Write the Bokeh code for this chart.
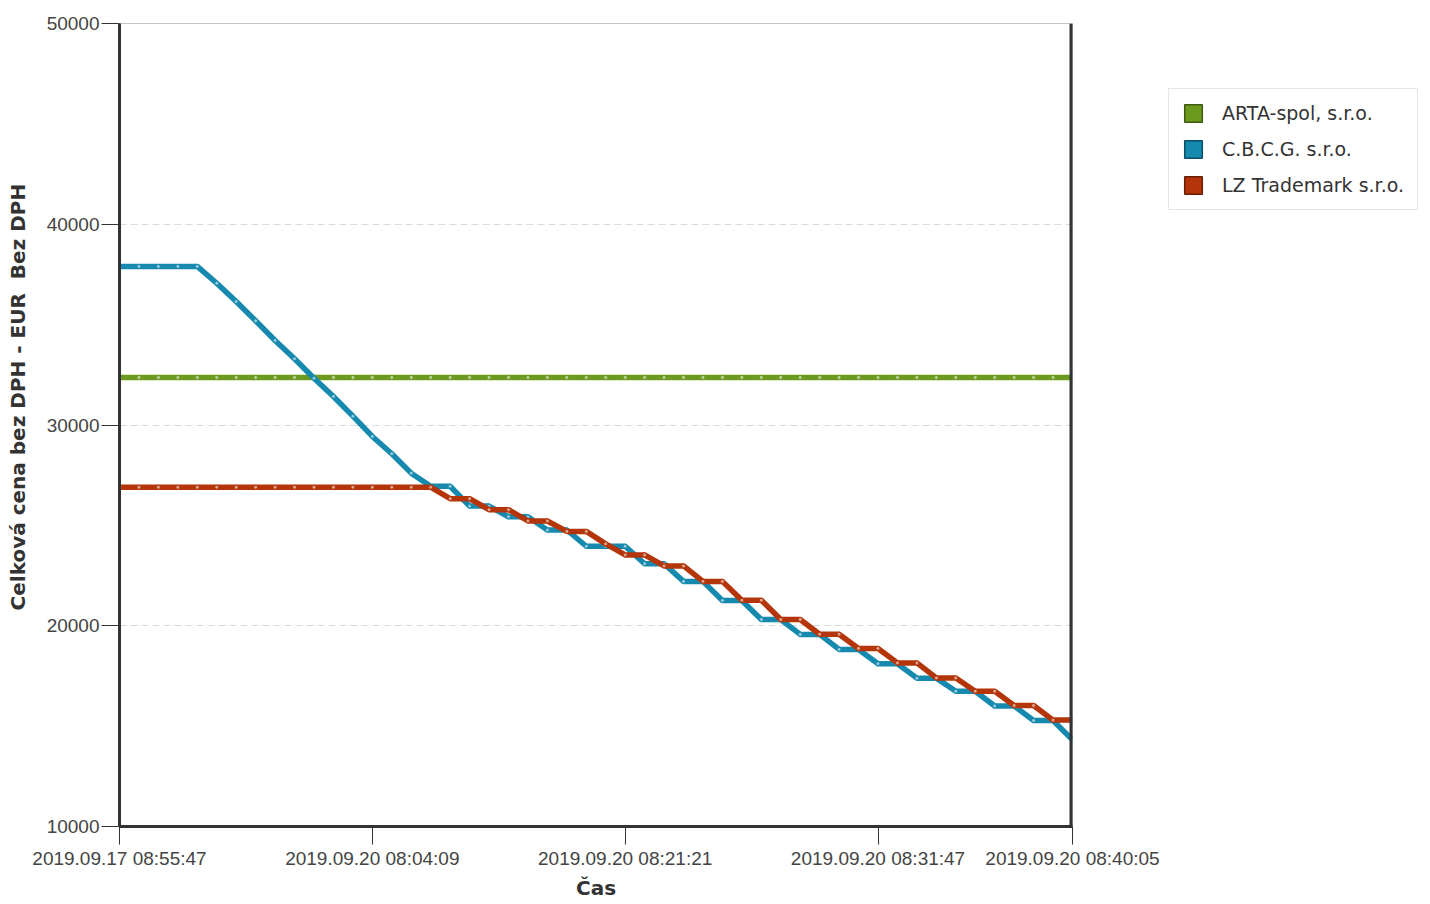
from bokeh.plotting import figure
from bokeh.models import (ColumnDataSource, Range1d, FixedTicker, Legend, LegendItem,
                          Span)
from bokeh.layouts import row
from bokeh.embed import file_html
from bokeh.resources import INLINE

# ---- data ----
series_names = ["ARTA-spol, s.r.o.", "C.B.C.G. s.r.o.", "LZ Trademark s.r.o."]
series_colors = ["#6b9a1f", "#1589ae", "#b33509"]
legend_edge = ["#3f5a12", "#0d4f66", "#6a1f05"]

arta = [32370] * 50

cbcg = [37900, 37900, 37900, 37900, 37900, 37060, 36150, 35190, 34210, 33300,
        32330, 31420, 30440, 29430, 28570, 27600, 26950, 26950, 25960, 25960,
        25430, 25430, 24770, 24770, 23960, 23960, 23960, 23090, 23090, 22210,
        22210, 21260, 21260, 20310, 20310, 19570, 19570, 18820, 18820, 18110,
        18110, 17390, 17390, 16740, 16740, 16000, 16000, 15280, 15280, 14320]

lz = [26900, 26900, 26900, 26900, 26900, 26900, 26900, 26900, 26900, 26900,
      26900, 26900, 26900, 26900, 26900, 26900, 26900, 26330, 26330, 25780,
      25780, 25220, 25220, 24700, 24700, 24080, 23530, 23530, 22980, 22980,
      22210, 22210, 21270, 21270, 20310, 20310, 19580, 19580, 18870, 18870,
      18150, 18150, 17400, 17400, 16740, 16740, 16030, 16030, 15300, 15300]

tick_positions = [0, 13, 26, 39, 49]
tick_labels = ["2019.09.17 08:55:47", "2019.09.20 08:04:09", "2019.09.20 08:21:21",
               "2019.09.20 08:31:47", "2019.09.20 08:40:05"]
y_ticks = [10000, 20000, 30000, 40000, 50000]

x_title = "Čas"
y_title = "\u00a0" * 8 + "Celková cena bez DPH - EUR\u00a0 Bez DPH"

idx = list(range(len(arta)))

H = 902
p = figure(width=1160, height=H, output_backend="svg", toolbar_location=None,
           x_range=Range1d(idx[0], idx[-1]), y_range=Range1d(y_ticks[0], y_ticks[-1]),
           min_border_left=119, min_border_right=88, min_border_top=23,
           min_border_bottom=76)
p.background_fill_color = "white"
p.border_fill_color = "white"
p.outline_line_color = "#c4c4c4"
p.outline_line_width = 1

# axes
xa = p.xaxis[0]
xa.ticker = FixedTicker(ticks=tick_positions)
xa.major_label_overrides = {t: l for t, l in zip(tick_positions, tick_labels)}
ya = p.yaxis[0]
ya.ticker = FixedTicker(ticks=y_ticks)
for ax in (xa, ya):
    ax.axis_line_color = "#333333"
    ax.axis_line_width = 3
    ax.major_tick_line_color = "#333333"
    ax.major_tick_line_width = 1
    ax.major_tick_out = 18
    ax.major_tick_in = 0
    ax.minor_tick_line_color = None
    ax.major_label_text_font = "Liberation Sans"
    ax.major_label_text_font_size = "19px"
    ax.major_label_text_color = "#444444"
    ax.major_label_standoff = 3
    ax.axis_label_text_font = "DejaVu Sans"
    ax.axis_label_text_font_size = "20px"
    ax.axis_label_text_font_style = "bold"
    ax.axis_label_text_color = "#333333"
xa.axis_label = x_title
xa.axis_label_standoff = 4
ya.axis_label = y_title
ya.axis_label_standoff = 14
ya.major_label_standoff = 2

# thick right frame edge at the last category
p.add_layout(Span(location=idx[-1], dimension="height", line_color="#333333",
                  line_width=6))

p.xgrid.grid_line_color = None
p.ygrid.grid_line_color = "#d5dde3"
p.ygrid.grid_line_dash = "7 4"
p.ygrid.grid_line_width = 1

# series
all_vals = [arta, cbcg, lz]
for vals, col in zip(all_vals, series_colors):
    src = ColumnDataSource(dict(x=idx, y=vals))
    p.line("x", "y", source=src, line_color=col, line_width=5.5, line_join="round")
    p.scatter("x", "y", source=src, size=4, marker="circle", line_color=col,
              line_width=1, fill_color="white", fill_alpha=0.55)

# legend panel (separate figure to the right)
q = figure(width=268, height=H, output_backend="svg", toolbar_location=None,
           x_range=Range1d(0, 1), y_range=Range1d(0, 1),
           x_axis_type=None, y_axis_type=None,
           min_border_left=0, min_border_right=0, min_border_top=0,
           min_border_bottom=0)
q.outline_line_color = None
q.grid.grid_line_color = None
q.background_fill_color = "white"
q.border_fill_color = "white"

items = []
nan = float("nan")
for name, col, edge in zip(series_names, series_colors, legend_edge):
    dummy = ColumnDataSource(dict(left=[nan], right=[nan], top=[nan], bottom=[nan]))
    r = q.quad(left="left", right="right", top="top", bottom="bottom", source=dummy,
               fill_color=col, line_color=edge, line_width=1.5)
    items.append(LegendItem(label=name, renderers=[r]))

legend = Legend(items=items, location=(8, 616))
legend.glyph_width = 22
legend.glyph_height = 22
legend.label_standoff = 18
legend.spacing = 14
legend.padding = 13
legend.margin = 0
legend.label_text_font = "DejaVu Sans"
legend.label_text_font_size = "19px"
legend.label_text_color = "#333333"
legend.border_line_color = "#cccccc"
legend.border_line_width = 1.5
legend.background_fill_color = "white"
q.add_layout(legend, "center")

layout = row(p, q)
open("out.html", "w").write(file_html(layout, INLINE))
